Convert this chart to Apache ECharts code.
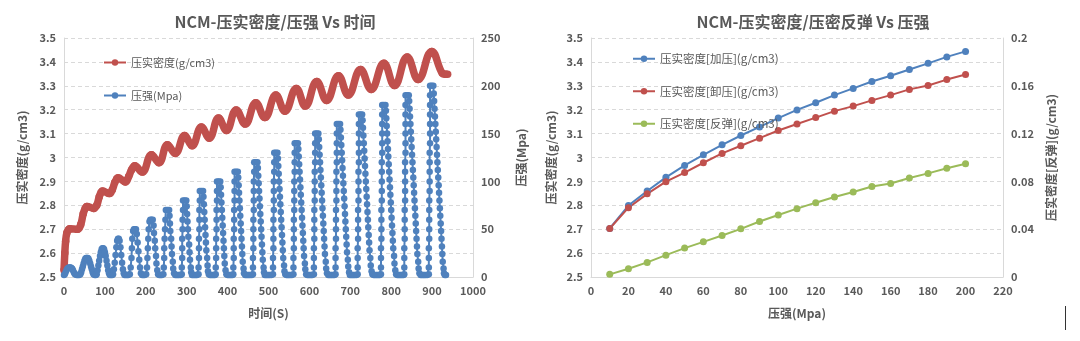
<!DOCTYPE html>
<html><head><meta charset="utf-8">
<script src="https://cdn.jsdelivr.net/npm/echarts@6/dist/echarts.min.js"></script>
<style>html,body{margin:0;padding:0;background:#fff;}#c{width:1080px;height:341px;}</style>
</head><body><div id="c"></div>
<script>
// ---------- Left chart data: time trace ----------
// density trace [time s, g/cm3] (peaks & troughs)
const densityTrace = [
[0,2.528],[2,2.60],[4,2.65],[7,2.685],[11,2.698],[14,2.702],
[33,2.700],[41,2.72],[47,2.765],[52,2.788],[56,2.795],
[73,2.787],[80,2.80],[86,2.835],[91,2.855],[94,2.860],
[111,2.849],[118,2.865],[124,2.895],[129,2.911],[132,2.915],
[150,2.898],[158,2.92],[165,2.948],[173,2.965],
[191,2.939],[214,3.011],
[232,2.978],[253,3.053],
[272,3.017],[295,3.092],
[313,3.049],[336,3.128],
[355,3.081],[378,3.165],
[397,3.113],[421,3.199],
[443,3.140],[469,3.229],
[491,3.167],[518,3.261],
[540,3.194],[568,3.289],
[590,3.215],[618,3.318],
[642,3.239],[671,3.342],
[695,3.261],[725,3.368],
[751,3.285],[782,3.394],
[808,3.301],[839,3.421],
[866,3.326],[899,3.444],
[925,3.352],[932,3.348],[938,3.348]
];
// pressure trace [time s, MPa]
const pressureTrace = [
[0,2],[2,3],[4,5],[6,7],[8,8.5],[10,9.5],[12,10],[14,10],[16,10],[18,9.5],[20,8.5],[22,7],[24,5],[26,3.5],[28,2.5],[31,2],[34,2],[37,2],
[40,3],[42,5],[44,8],[46,11],[48,14],[50,17],[52,19],[54,20],[56,20],[58,20],[60,19],[62,17],[64,14],[66,11],[68,8],[70,5],[72,3],[75,2],[78,2],
[80,3],[82,7],[84,12],[86,17],[88,22],[90,26],[92,29],[94,30],[96,30],[98,29],[100,26],[102,22],[104,17],[106,12],[108,7],[110,4],[112,2],[115,2],[118,2],
[120,3],[122,8],[124,15],[126,23],[128,31],[130,38],[132,40],[134,40],[136,38],[138,31],[140,23],[142,15],[144,8],[146,4],[148,2],[151,2],[154,2],[157,2],
[161,3],[163,10],[165,20],[166,30],[167,40],[169,48],[171,50],[173,50],[176,50],[178,45],[180,36],[182,27],[184,18],[186,10],[188,4],[191,2],[194,2],[197,2],
[201,3],[203,10],[204,20],[205,30],[206,40],[207,50],[209,58],[211,60],[214,60],[217,60],[219,54],[220,46],[222,38],[223,30],[225,22],[226,14],[228,7],[230,3],[233,2],[236,2],[239,2],
[243,3],[244,10],[245,20],[245,30],[246,40],[247,50],[248,60],[249,70],[253,70],[257,70],[258,64],[259,56],[260,48],[262,40],[263,32],[264,24],[266,16],[267,9],[269,4],[272,2],[275,2],[278,2],[281,2],[285,2],
[288,3],[288,10],[289,20],[289,30],[289,40],[290,50],[290,60],[291,70],[291,80],[295,80],[299,80],[300,74],[301,66],[302,58],[303,50],[304,42],[306,34],[307,26],[308,18],[310,10],[311,5],[313,2],[316,2],[319,2],[322,2],[325,2],
[329,3],[329,10],[330,20],[330,30],[330,40],[331,50],[331,60],[331,70],[332,80],[332,90],[336,90],[340,90],[341,84],[342,76],[343,68],[344,60],[345,52],[346,44],[347,36],[348,28],[350,20],[351,12],[352,6],[354,3],[357,2],[360,2],[363,2],[366,2],[369,2],
[371,3],[371,10],[372,20],[372,30],[372,40],[373,50],[373,60],[373,70],[374,80],[374,90],[374,100],[378,100],[382,100],[383,94],[384,86],[385,78],[386,70],[387,62],[388,54],[389,46],[390,38],[391,30],[392,22],[393,14],[395,7],[397,3],[400,2],[403,2],[406,2],[409,2],[412,2],
[414,3],[414,10],[415,20],[415,30],[415,40],[416,50],[416,60],[416,70],[417,80],[417,90],[417,100],[417,110],[421,110],[425,110],[426,104],[427,96],[428,88],[429,80],[430,72],[431,64],[432,56],[433,48],[434,40],[435,32],[436,24],[437,16],[439,9],[440,4],[443,2],[446,2],[449,2],[452,2],[455,2],[459,2],
[462,3],[462,10],[462,20],[463,30],[463,40],[463,50],[463,60],[464,70],[464,80],[464,90],[464,100],[465,110],[465,120],[469,120],[473,120],[474,114],[475,106],[476,98],[477,90],[478,82],[479,74],[480,66],[481,58],[482,50],[483,42],[484,34],[485,26],[486,18],[488,10],[489,5],[491,2],[494,2],[497,2],[500,2],[503,2],[507,2],
[511,3],[511,10],[511,20],[512,30],[512,40],[512,50],[512,60],[513,70],[513,80],[513,90],[513,100],[514,110],[514,120],[514,130],[518,130],[522,130],[523,124],[524,116],[525,108],[526,100],[527,92],[528,84],[529,76],[530,68],[531,60],[532,52],[533,44],[534,36],[535,28],[536,20],[538,12],[539,6],[541,3],[544,2],[547,2],[550,2],[553,2],[557,2],
[561,3],[561,10],[561,20],[562,30],[562,40],[562,50],[562,60],[563,70],[563,80],[563,90],[563,100],[564,110],[564,120],[564,130],[564,140],[568,140],[572,140],[573,134],[574,126],[575,118],[576,110],[577,102],[578,94],[579,86],[580,78],[581,70],[582,62],[583,54],[584,46],[585,38],[586,30],[587,22],[589,14],[590,8],[592,3],[595,2],[598,2],[601,2],[604,2],[607,2],
[611,3],[611,10],[611,20],[611,30],[612,40],[612,50],[612,60],[612,70],[613,80],[613,90],[613,100],[613,110],[614,120],[614,130],[614,140],[614,150],[618,150],[622,150],[623,144],[624,136],[625,128],[626,120],[627,112],[628,104],[629,96],[630,88],[631,80],[632,72],[633,64],[634,56],[635,48],[636,40],[637,32],[638,24],[640,16],[641,9],[643,4],[646,2],[649,2],[652,2],[655,2],[658,2],[661,2],
[664,3],[664,10],[664,20],[664,30],[665,40],[665,50],[665,60],[665,70],[666,80],[666,90],[666,100],[666,110],[667,120],[667,130],[667,140],[667,150],[667,160],[671,160],[675,160],[676,154],[677,146],[678,138],[679,130],[680,122],[681,114],[682,106],[683,98],[684,90],[685,82],[686,74],[687,66],[688,58],[689,50],[690,42],[691,34],[692,26],[694,18],[695,11],[697,5],[699,2],[702,2],[705,2],[708,2],[711,2],[715,2],
[718,3],[718,10],[718,20],[718,30],[719,40],[719,50],[719,60],[719,70],[720,80],[720,90],[720,100],[720,110],[721,120],[721,130],[721,140],[721,150],[721,160],[721,170],[725,170],[729,170],[730,164],[731,156],[732,148],[733,140],[734,132],[735,124],[736,116],[737,108],[738,100],[739,92],[740,84],[741,76],[742,68],[743,60],[744,52],[745,44],[746,36],[747,28],[749,20],[750,12],[752,6],[754,3],[757,2],[760,2],[763,2],[766,2],[769,2],[772,2],
[775,3],[775,10],[775,20],[775,30],[776,40],[776,50],[776,60],[776,70],[777,80],[777,90],[777,100],[777,110],[777,120],[778,130],[778,140],[778,150],[778,160],[778,170],[778,180],[782,180],[786,180],[787,174],[788,166],[789,158],[790,150],[791,142],[792,134],[793,126],[794,118],[795,110],[796,102],[797,94],[798,86],[799,78],[800,70],[801,62],[802,54],[803,46],[804,38],[805,30],[807,22],[808,14],[810,7],[812,3],[815,2],[818,2],[821,2],[824,2],[827,2],[830,2],
[832,3],[832,10],[832,20],[832,30],[833,40],[833,50],[833,60],[833,70],[834,80],[834,90],[834,100],[834,110],[834,120],[835,130],[835,140],[835,150],[835,160],[835,170],[835,180],[835,190],[839,190],[843,190],[844,184],[845,176],[846,168],[847,160],[848,152],[849,144],[850,136],[851,128],[852,120],[853,112],[854,104],[855,96],[856,88],[857,80],[858,72],[859,64],[860,56],[861,48],[862,40],[863,32],[864,24],[866,16],[867,9],[869,4],[872,2],[875,2],[878,2],[881,2],[884,2],[888,2],
[892,3],[892,10],[892,20],[892,30],[893,40],[893,50],[893,60],[893,70],[893,80],[894,90],[894,100],[894,110],[894,120],[894,130],[895,140],[895,150],[895,160],[895,170],[895,180],[895,190],[895,200],[899,200],[903,200],[904,192],[905,184],[906,176],[907,168],[908,160],[909,152],[910,144],[911,136],[912,128],[913,120],[914,112],[915,104],[916,96],[917,88],[918,80],[919,72],[920,64],[921,56],[922,48],[923,40],[924,32],[925,24],[926,16],[928,9],[929,4],[931,2],[934,2]
];

// ---------- Right chart data ----------
const pressureLevels = [10,20,30,40,50,60,70,80,90,100,110,120,130,140,150,160,170,180,190,200];
const loadDensity    = [2.703,2.799,2.860,2.917,2.967,3.011,3.053,3.092,3.128,3.165,3.199,3.229,3.261,3.289,3.318,3.342,3.368,3.394,3.421,3.444];
const unloadDensity  = [2.703,2.790,2.848,2.899,2.937,2.978,3.017,3.049,3.081,3.113,3.140,3.167,3.194,3.215,3.239,3.261,3.285,3.301,3.326,3.347];
const reboundDensity = [0.0022,0.0069,0.0122,0.0183,0.0242,0.0294,0.0347,0.0403,0.0464,0.0519,0.0572,0.0622,0.0669,0.0711,0.0758,0.0783,0.0828,0.0867,0.0910,0.0948];

const FONT = '"Noto Sans CJK SC", "Noto Sans", sans-serif';
const GREY = '#595959';
const BLUE = '#4F81BD', RED = '#C0504D', GREEN = '#9BBB59';
const pair = (xs, ys) => xs.map((x, i) => [x, ys[i]]);
const fmt = v => String(+(+v).toFixed(2));

const lbl = {color: GREY, fontFamily: FONT, fontSize: 11, fontWeight: 'bold', formatter: fmt};
const nameStyle = {color: GREY, fontFamily: FONT, fontSize: 12, fontWeight: 'bold'};
const axLine = {show: true, lineStyle: {color: '#d9d9d9', width: 1}};
const split = {show: true, lineStyle: {color: '#d9d9d9', type: [4, 3], width: 1}};

const chart = echarts.init(document.getElementById('c'), null, {renderer: 'canvas'});
chart.setOption({
  animation: false,
  backgroundColor: '#fff',
  title: [
    {text: 'NCM-压实密度/压强 Vs 时间', left: 270, top: 9, textAlign: 'center',
     textStyle: {color: GREY, fontFamily: FONT, fontSize: 16, fontWeight: 'bold'}},
    {text: 'NCM-压实密度/压密反弹 Vs 压强', left: 808, top: 9, textAlign: 'center',
     textStyle: {color: GREY, fontFamily: FONT, fontSize: 16, fontWeight: 'bold'}}
  ],
  legend: [
    {orient: 'vertical', left: 98, top: 52, itemGap: 22, itemWidth: 22, itemHeight: 8,
     textStyle: {color: GREY, fontFamily: FONT, fontSize: 11},
     data: [{name: '压实密度(g/cm3)', lineStyle: {width: 2}}, {name: '压强(Mpa)'}]},
    {orient: 'vertical', left: 627, top: 48, itemGap: 21, itemWidth: 22, itemHeight: 8,
     textStyle: {color: GREY, fontFamily: FONT, fontSize: 11.5},
     data: ['压实密度[加压](g/cm3)', '压实密度[卸压](g/cm3)', '压实密度[反弹](g/cm3)']}
  ],
  grid: [
    {left: 64, right: 607, top: 38, bottom: 64},
    {left: 591, right: 77, top: 38, bottom: 64}
  ],
  xAxis: [
    {type: 'value', gridIndex: 0, min: 0, max: 1000, interval: 100,
     name: '时间(S)', nameLocation: 'middle', nameGap: 30, nameTextStyle: nameStyle,
     axisLine: axLine, axisTick: {show: false}, splitLine: {show: false}, axisLabel: lbl},
    {type: 'value', gridIndex: 1, min: 0, max: 220, interval: 20,
     name: '压强(Mpa)', nameLocation: 'middle', nameGap: 30, nameTextStyle: nameStyle,
     axisLine: axLine, axisTick: {show: false}, splitLine: {show: false}, axisLabel: lbl}
  ],
  yAxis: [
    {type: 'value', gridIndex: 0, min: 2.5, max: 3.5, interval: 0.1, position: 'left',
     name: '压实密度(g/cm3)', nameLocation: 'middle', nameGap: 36, nameRotate: 90, nameTextStyle: nameStyle,
     axisLine: axLine, axisTick: {show: false}, splitLine: split, axisLabel: lbl},
    {type: 'value', gridIndex: 0, min: 0, max: 250, interval: 50, position: 'right',
     name: '压强(Mpa)', nameLocation: 'middle', nameGap: 42, nameRotate: 90, nameTextStyle: nameStyle,
     axisLine: axLine, axisTick: {show: false}, splitLine: {show: false}, axisLabel: lbl},
    {type: 'value', gridIndex: 1, min: 2.5, max: 3.5, interval: 0.1, position: 'left',
     name: '压实密度(g/cm3)', nameLocation: 'middle', nameGap: 34, nameRotate: 90, nameTextStyle: nameStyle,
     axisLine: axLine, axisTick: {show: false}, splitLine: split, axisLabel: lbl},
    {type: 'value', gridIndex: 1, min: 0, max: 0.2, interval: 0.04, position: 'right',
     name: '压实密度[反弹](g/cm3)', nameLocation: 'middle', nameGap: 42, nameRotate: 90, nameTextStyle: nameStyle,
     axisLine: axLine, axisTick: {show: false}, splitLine: {show: false}, axisLabel: lbl}
  ],
  series: [
    {name: '压实密度(g/cm3)', type: 'line', xAxisIndex: 0, yAxisIndex: 0, data: densityTrace,
     smooth: 0.45, symbol: 'circle', symbolSize: 7.5, showSymbol: true,
     lineStyle: {color: RED, width: 7.5}, itemStyle: {color: RED}, z: 2},
    {name: '压强(Mpa)', type: 'line', xAxisIndex: 0, yAxisIndex: 1, data: pressureTrace,
     symbol: 'circle', symbolSize: 6.5, showSymbol: true, showAllSymbol: true,
     lineStyle: {color: BLUE, width: 2}, itemStyle: {color: BLUE}, z: 3},
    {name: '压实密度[加压](g/cm3)', type: 'line', xAxisIndex: 1, yAxisIndex: 2,
     data: pair(pressureLevels, loadDensity), symbol: 'circle', symbolSize: 7,
     lineStyle: {color: BLUE, width: 2}, itemStyle: {color: BLUE}},
    {name: '压实密度[卸压](g/cm3)', type: 'line', xAxisIndex: 1, yAxisIndex: 2,
     data: pair(pressureLevels, unloadDensity), symbol: 'circle', symbolSize: 7,
     lineStyle: {color: RED, width: 2}, itemStyle: {color: RED}},
    {name: '压实密度[反弹](g/cm3)', type: 'line', xAxisIndex: 1, yAxisIndex: 3,
     data: pair(pressureLevels, reboundDensity), symbol: 'circle', symbolSize: 7,
     lineStyle: {color: GREEN, width: 2}, itemStyle: {color: GREEN}}
  ],
  graphic: [
    {type: 'line', shape: {x1: 1065.5, y1: 306, x2: 1065.5, y2: 330}, style: {stroke: '#333', lineWidth: 1}}
  ]
});
</script></body></html>
